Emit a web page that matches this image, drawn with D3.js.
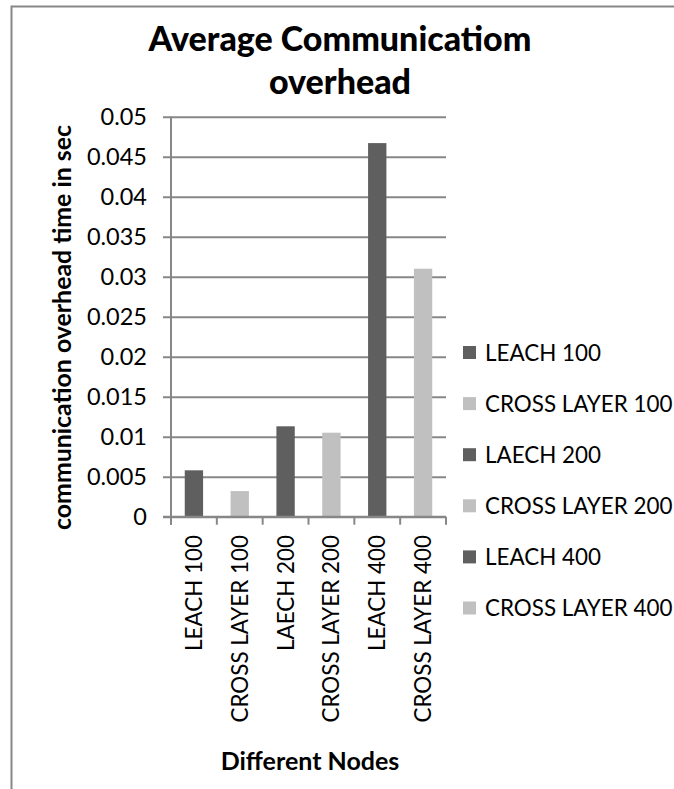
<!DOCTYPE html>
<html>
<head>
<meta charset="utf-8">
<script src="https://cdn.jsdelivr.net/npm/d3@7"></script>
<style>
  html, body { margin: 0; padding: 0; background: #fff; overflow: hidden; }
  svg { display: block; }
  text { font-family: Lato, "Open Sans", sans-serif; fill: #000; }
</style>
</head>
<body>
<svg id="chart" width="674" height="789"></svg>
<script>
// Communication overhead per configuration (seconds)
const categories = ["LEACH 100", "CROSS LAYER 100", "LAECH 200", "CROSS LAYER 200", "LEACH 400", "CROSS LAYER 400"];
const values = [0.0058, 0.0032, 0.0113, 0.0105, 0.0467, 0.031];
const seriesColors = ["#5f5f5f", "#c0c0c0", "#5f5f5f", "#c0c0c0", "#5f5f5f", "#c0c0c0"];
const yTicks = [0, 0.005, 0.01, 0.015, 0.02, 0.025, 0.03, 0.035, 0.04, 0.045, 0.05];
const yTickLabels = ["0", "0.005", "0.01", "0.015", "0.02", "0.025", "0.03", "0.035", "0.04", "0.045", "0.05"];
const titleLines = ["Average Communicatiom", "overhead"];
const yAxisTitle = "communication overhead time in sec";
const xAxisTitle = "Different Nodes";

const svg = d3.select("#chart");
const gridColor = "#878787";

// outer chart frame (left and top edges visible)
svg.append("rect")
  .attr("x", 11.5).attr("y", 6.5)
  .attr("width", 800).attr("height", 900)
  .attr("fill", "none").attr("stroke", gridColor).attr("stroke-width", 2);

const plot = { left: 171, right: 446, top: 116.7, bottom: 516.7 };

const x = d3.scaleBand().domain(categories).range([plot.left, plot.right]).paddingInner(0).paddingOuter(0);
const y = d3.scaleLinear().domain([0, 0.05]).range([plot.bottom, plot.top]);

// horizontal gridlines with left tick stubs
svg.append("g").attr("class", "grid")
  .attr("transform", `translate(${plot.right},0)`)
  .call(d3.axisLeft(y).tickValues(yTicks).tickSize(plot.right - plot.left + 8).tickFormat(""))
  .call(g => g.select(".domain").remove())
  .call(g => g.selectAll("line").attr("stroke", gridColor).attr("stroke-width", 2));

// y tick labels
svg.append("g").selectAll("text").data(yTicks).join("text")
  .attr("x", 147).attr("y", d => y(d)).attr("dy", "0.36em")
  .attr("text-anchor", "end").style("font-size", "23.5px")
  .text((d, i) => yTickLabels[i]);

// bars
const barW = x.bandwidth() / 2.5;
svg.append("g").selectAll("rect").data(values).join("rect")
  .attr("x", (d, i) => x(categories[i]) + (x.bandwidth() - barW) / 2)
  .attr("y", d => y(d))
  .attr("width", barW)
  .attr("height", d => y(0) - y(d))
  .attr("fill", (d, i) => seriesColors[i]);

// vertical value axis line
svg.append("line")
  .attr("x1", plot.left).attr("x2", plot.left)
  .attr("y1", plot.top).attr("y2", plot.bottom + 8)
  .attr("stroke", gridColor).attr("stroke-width", 2);

// category axis: baseline and boundary ticks
const xAxis = svg.append("g").attr("transform", `translate(0,${plot.bottom})`);
xAxis.append("line").attr("x1", plot.left - 8).attr("x2", plot.right)
  .attr("stroke", gridColor).attr("stroke-width", 2);
const boundaries = categories.map(c => x(c)).concat([plot.right]);
xAxis.selectAll("line.tk").data(boundaries).join("line").attr("class", "tk")
  .attr("x1", d => d).attr("x2", d => d).attr("y1", 0).attr("y2", 8)
  .attr("stroke", gridColor).attr("stroke-width", 2);

// rotated category labels
svg.append("g").selectAll("text").data(categories).join("text")
  .attr("transform", d => `translate(${x(d) + x.bandwidth() / 2},535) rotate(-90)`)
  .attr("dy", "0.36em").attr("text-anchor", "end")
  .style("font-size", "22.4px")
  .text(d => d);

// axis titles
svg.append("text")
  .attr("transform", "translate(71,327.5) rotate(-90)")
  .attr("text-anchor", "middle")
  .attr("textLength", 405).attr("lengthAdjust", "spacingAndGlyphs")
  .style("font-size", "24px").style("font-weight", "bold")
  .text(yAxisTitle);

svg.append("text")
  .attr("x", 310).attr("y", 770).attr("text-anchor", "middle")
  .style("font-size", "25px").style("font-weight", "bold")
  .text(xAxisTitle);

// chart title
svg.append("g").selectAll("text").data(titleLines).join("text")
  .attr("x", 340).attr("y", (d, i) => 51 + i * 43)
  .attr("text-anchor", "middle")
  .style("font-size", "34px").style("font-weight", "900")
  .text(d => d);

// legend
const legend = svg.append("g").selectAll("g").data(categories).join("g")
  .attr("transform", (d, i) => `translate(463,${352.5 + i * 51.1})`);
legend.append("rect")
  .attr("x", 0).attr("y", -6.5).attr("width", 13).attr("height", 13)
  .attr("fill", (d, i) => seriesColors[i]);
legend.append("text")
  .attr("x", 22).attr("dy", "0.36em")
  .style("font-size", "22.4px")
  .text(d => d);
</script>
</body>
</html>
